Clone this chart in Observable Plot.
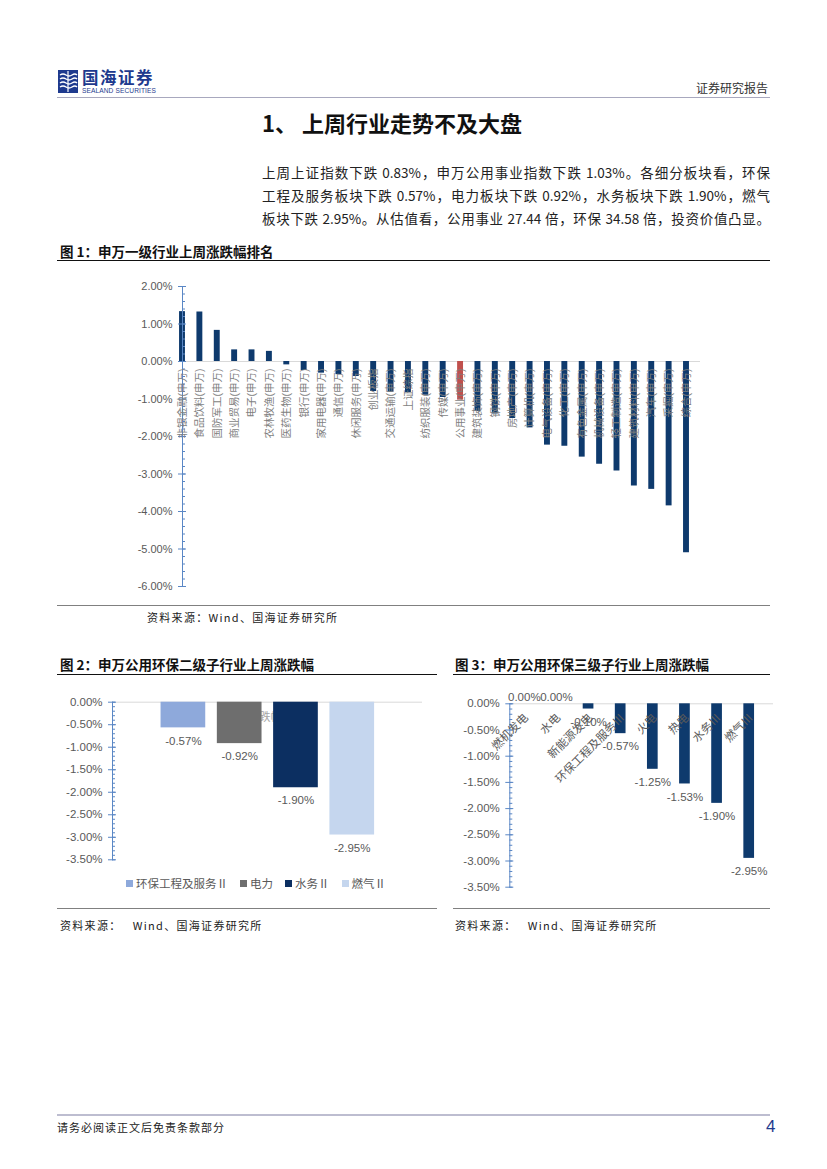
<!DOCTYPE html>
<html><head><meta charset="utf-8">
<script src="https://cdn.jsdelivr.net/npm/d3@7"></script>
<script src="https://cdn.jsdelivr.net/npm/@observablehq/plot@0.6"></script>
<style>
html,body{margin:0;padding:0;background:#fff;}
#page{position:relative;width:827px;height:1169px;overflow:hidden;font-family:"Noto Sans CJK SC",sans-serif;color:#222;}
.t{position:absolute;white-space:nowrap;}
.ln{position:absolute;height:0;}
.para{position:absolute;left:262px;width:508px;font-size:13.5px;line-height:20px;text-align:justify;text-align-last:justify;color:#222;}
.chart{position:absolute;}
#legend2{position:absolute;left:126px;top:876px;font-family:"Liberation Sans","Noto Sans CJK SC",sans-serif;font-size:11.5px;color:#595959;white-space:nowrap;line-height:14px;}
#legend2 span{display:inline-flex;align-items:center;margin-right:12px;}
#legend2 i{display:inline-block;width:7px;height:7px;margin-right:3px;}
</style></head>
<body><div id="page">
  <svg class="t" style="left:58px;top:70px" width="20" height="23" viewBox="0 0 20 23">
    <rect x="0" y="0" width="20" height="23" fill="#1E3A8E"/>
    <path d="M2 5 Q5 3 8 5 T14 5 T19 5" stroke="#fff" stroke-width="1.4" fill="none"/>
    <path d="M2 9 Q5 7 8 9 T14 9 T19 9" stroke="#fff" stroke-width="1.4" fill="none"/>
    <path d="M2 13 Q5 11 8 13 T14 13 T19 13" stroke="#fff" stroke-width="1.4" fill="none"/>
    <path d="M2 17 Q5 15 8 17 T14 17 T19 17" stroke="#fff" stroke-width="1.4" fill="none"/>
    <path d="M10 1 V22" stroke="#fff" stroke-width="1.2"/>
  </svg>
  <div class="t" style="left:82px;top:69px;font-size:16.5px;line-height:17px;font-weight:bold;color:#1E3A8E;letter-spacing:1.5px">国海证券</div>
  <div class="t" style="left:82px;top:87px;font-size:6.6px;line-height:7px;color:#1E3A8E;font-family:'Liberation Sans',sans-serif;letter-spacing:0.1px">SEALAND SECURITIES</div>
  <div class="t" style="right:59px;top:80px;font-size:12px;line-height:16px;color:#333">证券研究报告</div>
  <div class="ln" style="left:57px;top:97px;width:713px;border-top:1.5px solid #A8A8BE"></div>

  <div class="t" style="left:262px;top:108px;font-size:22px;line-height:28px;font-weight:bold;color:#111">1、 上周行业走势不及大盘</div>
  <div class="para" style="top:162px">上周上证指数下跌 0.83%，申万公用事业指数下跌 1.03%。各细分板块看，环保</div>
  <div class="para" style="top:185px">工程及服务板块下跌 0.57%，电力板块下跌 0.92%，水务板块下跌 1.90%，燃气</div>
  <div class="para" style="top:208px">板块下跌 2.95%。从估值看，公用事业 27.44 倍，环保 34.58 倍，投资价值凸显。</div>

  <div class="t" style="left:60px;top:242px;font-size:13.5px;line-height:18px;font-weight:bold;color:#111">图 1：申万一级行业上周涨跌幅排名</div>
  <div class="ln" style="left:57px;top:260px;width:713px;border-top:1.5px solid #111"></div>
  <div id="chart1" class="chart" style="left:0;top:270px"></div>
  <div class="ln" style="left:57px;top:605px;width:713px;border-top:1px solid #808080"></div>
  <div class="t" style="left:147px;top:609px;font-size:11px;line-height:16px;letter-spacing:1.3px;color:#222">资料来源：Wind、国海证券研究所</div>

  <div class="t" style="left:60px;top:655px;font-size:13.5px;line-height:18px;font-weight:bold;color:#111">图 2：申万公用环保二级子行业上周涨跌幅</div>
  <div class="ln" style="left:57px;top:674px;width:380px;border-top:1.5px solid #111"></div>
  <div class="t" style="left:455px;top:655px;font-size:13.5px;line-height:18px;font-weight:bold;color:#111">图 3：申万公用环保三级子行业上周涨跌幅</div>
  <div class="ln" style="left:453px;top:674px;width:317px;border-top:1.5px solid #111"></div>
  <div id="chart2" class="chart" style="left:0;top:690px"></div>
  <div id="legend2"></div>
  <div id="chart3" class="chart" style="left:440px;top:690px"></div>
  <div class="ln" style="left:57px;top:908px;width:380px;border-top:1px solid #808080"></div>
  <div class="ln" style="left:453px;top:908px;width:317px;border-top:1px solid #808080"></div>
  <div class="t" style="left:60px;top:917px;font-size:11px;line-height:16px;letter-spacing:1.3px;color:#222">资料来源：&nbsp;&nbsp;&nbsp;Wind、国海证券研究所</div>
  <div class="t" style="left:455px;top:917px;font-size:11px;line-height:16px;letter-spacing:1.3px;color:#222">资料来源：&nbsp;&nbsp;&nbsp;Wind、国海证券研究所</div>

  <div class="ln" style="left:57px;top:1114px;width:713px;border-top:2.5px solid #BDBDD0"></div>
  <div class="t" style="left:57px;top:1119px;font-size:11px;line-height:16px;letter-spacing:1px;color:#222">请务必阅读正文后免责条款部分</div>
  <div class="t" style="left:766px;top:1116px;font-size:17px;line-height:22px;color:#1E3A8E;font-family:'Liberation Sans',sans-serif">4</div>
</div>
<script>
// ---------- data ----------
const industries = ["非银金融(申万)","食品饮料(申万)","国防军工(申万)","商业贸易(申万)","电子(申万)","农林牧渔(申万)","医药生物(申万)","银行(申万)","家用电器(申万)","通信(申万)","休闲服务(申万)","创业板指","交通运输(申万)","上证综指","纺织服装(申万)","传媒(申万)","公用事业(申万)","建筑装饰(申万)","钢铁(申万)","房地产(申万)","计算机(申万)","电气设备(申万)","化工(申万)","有色金属(申万)","机械设备(申万)","轻工制造(申万)","建筑材料(申万)","汽车(申万)","采掘(申万)","综合(申万)"];
const weeklyChange = [1.33,1.32,0.83,0.31,0.31,0.27,-0.09,-0.24,-0.31,-0.35,-0.40,-0.80,-0.82,-0.83,-0.90,-0.96,-1.03,-1.33,-1.40,-1.52,-1.77,-2.23,-2.26,-2.55,-2.74,-2.92,-3.32,-3.41,-3.85,-5.10];
const highlightIndustry = "公用事业(申万)";
const ticks1 = [2,1,0,-1,-2,-3,-4,-5,-6];

const subIndustries2 = ["环保工程及服务Ⅱ","电力","水务Ⅱ","燃气Ⅱ"];
const change2 = [-0.57,-0.92,-1.90,-2.95];
const colors2 = ["#8EA9DB","#6E6E6E","#0C2F61","#C5D6EE"];
const category2 = "跌幅";

const subIndustries3 = ["燃机发电","水电","新能源发电","环保工程及服务Ⅲ","火电","热电","水务Ⅲ","燃气Ⅲ"];
const change3 = [0,0,-0.10,-0.57,-1.25,-1.53,-1.90,-2.95];
const ticks23 = [0,-0.5,-1,-1.5,-2,-2.5,-3,-3.5];

// ---------- styles ----------
const FONT = '"Liberation Sans", Arial, "Noto Sans CJK SC", sans-serif';
const AXIS = "#5A87C5";
const GRID = "#D9D9D9";
const LABEL = "#595959";
const NAVY = "#0E3A6D";
const fmt = d => (Math.abs(d) < 1e-9 ? 0 : d).toFixed(2) + "%";
const svgStyle = {background: "transparent", fontFamily: FONT, overflow: "visible"};

function yAxisMarks(majors, minors, fontSize) {
  return [
    Plot.frame({anchor: "left", stroke: AXIS}),
    Plot.axisY({ticks: minors, tickSize: 3, dx: 3, tickFormat: () => "", stroke: AXIS, label: null}),
    Plot.axisY({ticks: majors, tickSize: 8, dx: 4, tickPadding: 6, tickFormat: fmt, stroke: AXIS, fill: LABEL, fontSize, label: null})
  ];
}

// ---------- chart 1 ----------
const d1 = industries.map((name, i) => ({name, value: weeklyChange[i], group: name === highlightIndustry ? "hl" : "base"}));
const step1 = (686 - 182) / (industries.length - 1);
const minors1 = d3.range(-6, 2.0001, 0.2);
const chart1 = Plot.plot({
  width: 827, height: 330,
  marginLeft: 182, marginRight: 127, marginTop: 16, marginBottom: 14,
  style: svgStyle,
  x: {domain: industries, range: [182 - step1 / 2, 686 + step1 / 2], paddingInner: 0.66, paddingOuter: 0.33, round: false, axis: null},
  y: {domain: [-6, 2], axis: null},
  color: {domain: ["base", "hl"], range: [NAVY, "#C0504D"]},
  marks: [
    Plot.ruleY([0], {stroke: GRID}),
    Plot.barY(d1, {x: "name", y: "value", fill: "group"}),
    ...yAxisMarks(ticks1, minors1, 11),
    Plot.text(d1, {x: "name", y: 0, text: "name", rotate: -90, textAnchor: "end", dy: 7, fill: "#7F7F7F", fontSize: 10.5})
  ]
});
document.getElementById("chart1").appendChild(chart1);

// ---------- chart 2 ----------
const d2 = subIndustries2.map((name, i) => ({name, value: change2[i]}));
const minors23 = d3.range(-3.5, 0.0001, 0.1);
const chart2 = Plot.plot({
  width: 440, height: 200,
  marginLeft: 112, marginRight: 18, marginTop: 11.7, marginBottom: 30.7,
  style: svgStyle,
  x: {domain: subIndustries2, range: [154.75, 379.9], paddingInner: 0.206, paddingOuter: 0.103, round: false, axis: null},
  y: {domain: [-3.5, 0], axis: null},
  color: {domain: subIndustries2, range: colors2},
  marks: [
    Plot.text([category2], {text: d => d, frameAnchor: "top", lineAnchor: "middle", dy: 15, dx: 3, fill: "#A6A6A6", fontSize: 11}),
    Plot.ruleY([0], {stroke: GRID}),
    Plot.barY(d2, {x: "name", y: "value", fill: "name"}),
    ...yAxisMarks(ticks23, minors23, 11.5),
    Plot.text(d2, {x: "name", y: "value", text: d => fmt(d.value), dy: 13, fill: LABEL, fontSize: 11.5})
  ]
});
document.getElementById("chart2").appendChild(chart2);

const legend = document.getElementById("legend2");
subIndustries2.forEach((n, i) => {
  const s = document.createElement("span");
  s.innerHTML = `<i style="background:${colors2[i]}"></i>${n}`;
  legend.appendChild(s);
});

// ---------- chart 3 ----------
const d3data = subIndustries3.map((name, i) => ({name, value: change3[i]}));
const chart3 = Plot.plot({
  width: 387, height: 200,
  marginLeft: 69.3, marginRight: 54, marginTop: 13.3, marginBottom: 3.3,
  style: svgStyle,
  x: {domain: subIndustries3, range: [67.75, 324.75], paddingInner: 0.667, paddingOuter: 0.333, round: false, axis: null},
  y: {domain: [-3.5, 0], axis: null},
  marks: [
    Plot.ruleY([0], {stroke: GRID}),
    Plot.barY(d3data, {x: "name", y: "value", fill: NAVY}),
    ...yAxisMarks(ticks23, minors23, 11.5),
    Plot.text(d3data.filter(d => d.value >= 0), {x: "name", y: "value", text: d => fmt(d.value), dy: -6, fill: LABEL, fontSize: 11.5}),
    Plot.text(d3data.filter(d => d.value < 0), {x: "name", y: "value", text: d => fmt(d.value), dy: 13, fill: LABEL, fontSize: 11.5}),
    Plot.text(d3data, {x: "name", y: 0, text: "name", rotate: -45, textAnchor: "end", dx: 2, dy: 12, fill: LABEL, fontSize: 11.5})
  ]
});
document.getElementById("chart3").appendChild(chart3);
</script>
</body></html>
